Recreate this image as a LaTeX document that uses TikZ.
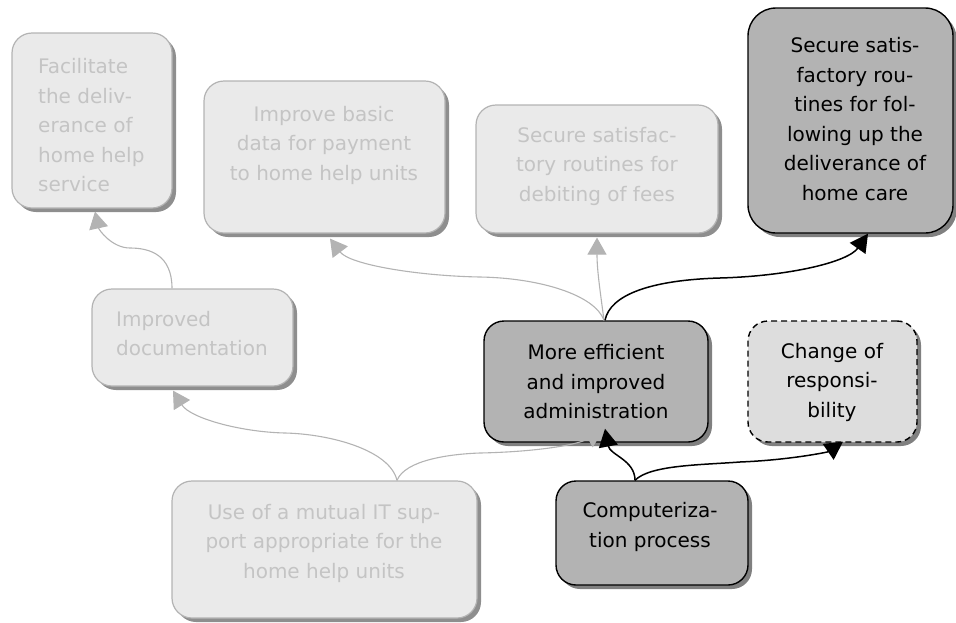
\documentclass[tikz,border=0pt]{standalone}
\usepackage{fontspec}
\setmainfont{DejaVu Sans}
\usetikzlibrary{shadows,arrows.meta}
\definecolor{lfill}{HTML}{EAEAEA}
\definecolor{lborder}{HTML}{B3B3B3}
\definecolor{ltext}{HTML}{C4C4C4}
\definecolor{lshadow}{HTML}{8E8E8E}
\definecolor{dfill}{HTML}{B3B3B3}
\definecolor{dshadow}{HTML}{808080}
\definecolor{cfill}{HTML}{DDDDDD}
\begin{document}
\begin{tikzpicture}[x=1pt,y=-1pt,
  basebox/.style={rectangle, rounded corners=20pt, inner sep=0pt},
  lightbox/.style={basebox, draw=lborder, fill=lfill, line width=1.2pt,
    drop shadow={shadow xshift=4pt,shadow yshift=-4pt,fill=lshadow,opacity=1}},
  darkbox/.style={basebox, draw=black, fill=dfill, line width=1.4pt,
    drop shadow={shadow xshift=4pt,shadow yshift=-4pt,fill=dshadow,opacity=1}},
  dashbox/.style={basebox, draw=black, fill=cfill, line width=1.4pt, dash pattern=on 6pt off 4pt,
    drop shadow={shadow xshift=4pt,shadow yshift=-4pt,fill=dshadow,opacity=1,solid}},
  txt/.style={font=\fontsize{20}{29.5}\selectfont, align=center, inner sep=0pt},
  ltxt/.style={txt, text=ltext},
  dtxt/.style={txt, text=black},
  garrow/.style={draw=lborder, line width=1.1pt, -{Triangle[length=17pt,width=19pt]}},
  barrow/.style={draw=black, line width=1.5pt, -{Triangle[length=18pt,width=19pt]}}
]
\useasboundingbox (0,0) rectangle (956,622);

% boxes
\node[lightbox, minimum width=160pt, minimum height=175pt] (fac) at (92,120.5) {};
\node[lightbox, minimum width=241pt, minimum height=152pt] (imp) at (324.5,157) {};
\node[lightbox, minimum width=242pt, minimum height=128pt] (deb) at (597,169) {};
\node[darkbox, rounded corners=28pt, minimum width=205pt, minimum height=225pt] (sec) at (850.5,120.5) {};
\node[lightbox, minimum width=201pt, minimum height=97pt] (doc) at (192.5,337.5) {};
\node[lightbox, minimum width=305pt, minimum height=137pt] (use) at (324.5,549.5) {};
\node[darkbox, minimum width=224pt, minimum height=121pt] (adm) at (596,381.5) {};
\node[dashbox, minimum width=169pt, minimum height=121pt] (chg) at (832.5,381.5) {};
\node[darkbox, minimum width=192pt, minimum height=104pt] (cmp) at (652,533) {};

% texts
\node[ltxt, align=left, anchor=west] (tfac) at (38,125.5) {Facilitate\\the deliv-\\erance of\\home help\\service};
\node[ltxt] (timp) at (324,145) {Improve basic\\data for payment\\to home help units};
\node[ltxt] (tdeb) at (597,166) {Secure satisfac-\\tory routines for\\debiting of fees};
\node[dtxt] (tsec) at (855,119) {Secure satis-\\factory rou-\\tines for fol-\\lowing up the\\deliverance of\\home care};
\node[ltxt, align=left, anchor=west] (tdoc) at (116,333.5) {Improved\\documentation};
\node[ltxt] (tuse) at (324,543) {Use of a mutual IT sup-\\port appropriate for the\\home help units};
\node[dtxt] (tadm) at (596,382) {More efficient\\and improved\\administration};
\node[dtxt] (tchg) at (832,382) {Change of\\responsi-\\bility};
\node[dtxt] (tcmp) at (650,527) {Computeriza-\\tion process};

% gray connectors
\draw[garrow] ([xshift=-20.5pt]doc.north) .. controls (172,255) and (150,248) .. (130,248)
  .. controls (112,248) and (99,230) .. ([xshift=3pt,yshift=-3pt]fac.south);
\draw[garrow] ([xshift=72.5pt]use.north) .. controls (390,450) and (330,434) .. (285,433)
  .. controls (240,432) and (190,418) .. ([xshift=-19.5pt,yshift=-4pt]doc.south);
\draw[garrow] ([xshift=72.5pt]use.north) .. controls (405,460) and (450,454) .. (480,453)
  .. controls (530,452) and (575,446) .. ([xshift=7pt,yshift=12pt]adm.south);
\draw[garrow] ([xshift=8pt]adm.north) .. controls (595,295) and (540,278) .. (480,277)
  .. controls (420,276) and (350,265) .. ([xshift=5.5pt,yshift=-5pt]imp.south);
\draw[garrow] ([xshift=8pt]adm.north) .. controls (600,290) and (597,270) .. ([yshift=-4pt]deb.south);

% black connectors
\draw[barrow] ([xshift=9pt]adm.north) .. controls (610,295) and (650,280) .. (720,278)
  .. controls (790,276) and (848,262) .. ([xshift=17.5pt]sec.south);
\draw[barrow] ([xshift=-17pt]cmp.north) .. controls (635,460) and (610,455) .. ([xshift=9pt,yshift=14pt]adm.south);
\draw[barrow] ([xshift=-17pt]cmp.north) .. controls (650,465) and (700,465) .. (740,462)
  .. controls (790,460) and (828,452) .. ([xshift=10.5pt,yshift=1pt]chg.south);
\end{tikzpicture}
\end{document}
